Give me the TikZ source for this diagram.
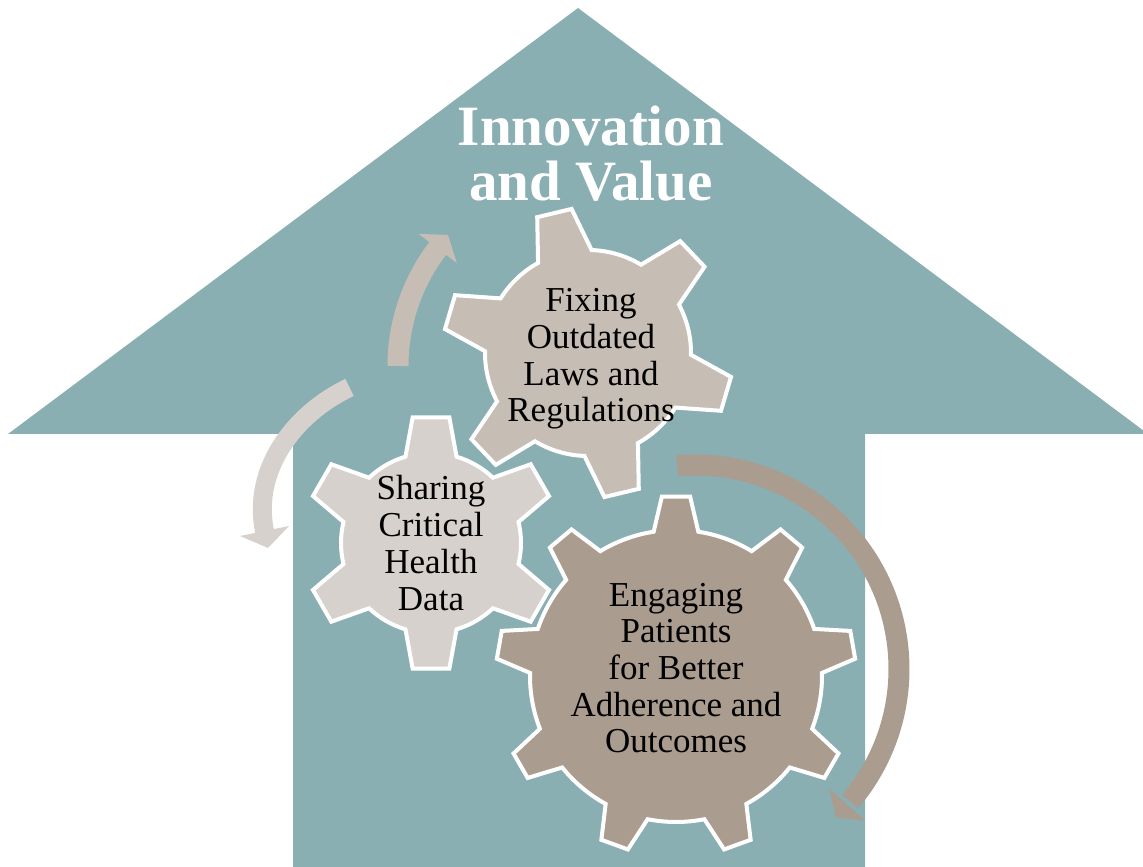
\documentclass[tikz,border=0pt]{standalone}
\usepackage{fontspec}
\setmainfont{Liberation Serif}
\usetikzlibrary{calc}
\definecolor{houseteal}{HTML}{8AAFB3}
\definecolor{gearA}{HTML}{C6BDB4}
\definecolor{gearB}{HTML}{D6D1CC}
\definecolor{gearC}{HTML}{AA9C8F}
\newcommand\drawgear[9]{%
  \begin{scope}[shift={(#2,#3)}]
    \pgfmathsetmacro\gstep{360/#4}
    \filldraw[fill=#1, draw=white, line width=4pt, line join=miter]
      ({#5-#8}:#6)
      \foreach \k in {1,...,#4} {
        -- ({#5+(\k-1)*\gstep-#9}:#7)
        -- ({#5+(\k-1)*\gstep+#9}:#7)
        -- ({#5+(\k-1)*\gstep+#8}:#6)
        arc[start angle={#5+(\k-1)*\gstep+#8}, end angle={#5+\k*\gstep-#8}, radius=#6]
      } -- cycle;
  \end{scope}}
\tikzset{
  geartext/.style={font=\fontsize{35}{36.7}\selectfont, text=black, align=center, inner sep=0pt},
  titletext/.style={font=\fontsize{57}{55}\selectfont\bfseries, text=white, align=center, inner sep=0pt},
  shaft/.style={line width=#1, line cap=butt}
}
\begin{document}
\begin{tikzpicture}[x=1pt,y=1pt]
\useasboundingbox (0,0) rectangle (1143,867);
\clip (0,0) rectangle (1143,867);
% house-shaped arrow
\fill[houseteal] (578,859) -- (8,433) -- (293,433) -- (293,-2) -- (865,-2) -- (865,433) -- (1148,433) -- cycle;

% top arrow (around the upper gear)
\begin{scope}[shift={(592,501)}]
  \draw[gearA, shaft=21pt] (180:194) arc[start angle=180, end angle=141.5, radius=194];
  \fill[gearA] (142.7:170) -- (142.7:218) -- (137.7:194.7) -- cycle;
\end{scope}

% right arrow (around the lower gear)
\begin{scope}[shift={(695,198)}]
  \draw[gearC, shaft=21pt] (95:204) arc[start angle=95, end angle=-40.5, radius=204];
  \fill[gearC] (-41.7:180) -- (-41.7:228) -- (-46.5:204.7) -- cycle;
\end{scope}

% left arrow
\coordinate (la0) at (349.5,479.5);
\coordinate (la1) at (293.5,453);
\coordinate (la2) at (252.1,396.8);
\coordinate (la3) at (264.5,336);
\coordinate (lab1) at (240,331);
\coordinate (lab2) at (289,341);
\coordinate (latip) at (268,319);
\draw[gearB, shaft=19pt] (la0) .. controls (la1) and (la2) .. (la3) -- ++(0.8,-4);
\fill[gearB] (lab1) -- (lab2) -- (latip) -- cycle;

% gears
\drawgear{gearA}{588}{514}{6}{43.5}{103}{145}{15.5}{7}
\drawgear{gearB}{431}{324}{6}{90}{90}{127}{16.5}{8.3}
\drawgear{gearC}{676}{191}{9}{90}{146}{180}{8.8}{4.5}

% texts
\node[titletext] (title) at (591,713) {Innovation\\and Value};
\node[geartext] (fix) at (591,508.1) {Fixing\\Outdated\\Laws and\\Regulations};
\node[geartext] (share) at (431,324) {Sharing\\Critical\\Health\\Data};
\node[geartext] (engage) at (676,199) {Engaging\\Patients\\for Better\\Adherence and\\Outcomes};
\end{tikzpicture}
\end{document}
